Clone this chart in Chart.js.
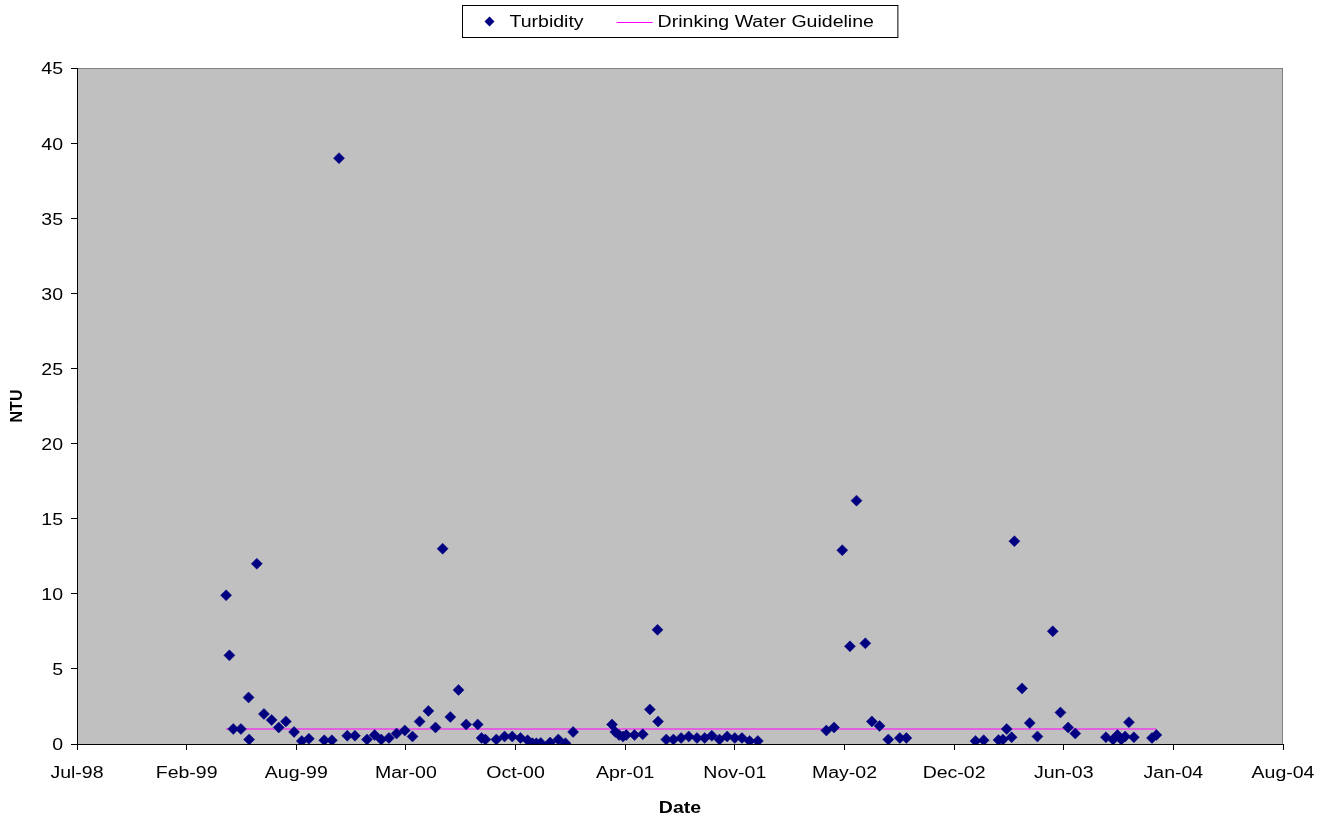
<!DOCTYPE html>
<html>
<head>
<meta charset="utf-8">
<title>Turbidity</title>
<script src="https://cdn.jsdelivr.net/npm/chart.js@4.4.1/dist/chart.umd.min.js"></script>
<style>
  html, body { margin: 0; padding: 0; background: #fff; }
  #wrap { width: 1332px; height: 818px; }
</style>
</head>
<body>
<div id="wrap"><canvas id="turbChart"></canvas></div>
<script>
// sampling dates and measured turbidity (NTU)
const sampleDates = [
  '1999-04-22', '1999-04-28', '1999-05-05', '1999-05-19', '1999-06-02', '1999-06-03',
  '1999-06-17', '1999-06-30', '1999-07-14', '1999-07-27', '1999-08-09', '1999-08-24',
  '1999-09-07', '1999-09-20', '1999-10-18', '1999-11-01', '1999-11-14', '1999-11-29',
  '1999-12-13', '2000-01-04', '2000-01-18', '2000-01-30', '2000-02-13', '2000-02-27',
  '2000-03-13', '2000-03-27', '2000-04-09', '2000-04-25', '2000-05-08', '2000-05-21',
  '2000-06-04', '2000-06-19', '2000-07-03', '2000-07-24', '2000-07-31', '2000-08-07',
  '2000-08-27', '2000-09-11', '2000-09-25', '2000-10-10', '2000-10-23', '2000-11-01',
  '2000-11-08', '2000-11-16', '2000-12-03', '2000-12-18', '2000-12-31', '2001-01-14',
  '2001-03-26', '2001-04-01', '2001-04-08', '2001-04-15', '2001-04-21', '2001-05-06',
  '2001-05-21', '2001-06-03', '2001-06-17', '2001-06-18', '2001-07-03', '2001-07-16',
  '2001-07-30', '2001-08-13', '2001-08-28', '2001-09-11', '2001-09-24', '2001-10-08',
  '2001-10-22', '2001-11-05', '2001-11-18', '2001-12-02', '2001-12-17',
  '2002-04-21', '2002-05-05', '2002-05-20', '2002-06-03', '2002-06-15', '2002-07-01',
  '2002-07-13', '2002-07-27', '2002-08-12', '2002-09-02', '2002-09-14',
  '2003-01-18', '2003-02-02', '2003-03-01', '2003-03-09', '2003-03-16', '2003-03-25',
  '2003-03-30', '2003-04-13', '2003-04-27', '2003-05-11', '2003-06-08', '2003-06-22',
  '2003-07-06', '2003-07-19', '2003-09-13', '2003-09-26', '2003-10-04', '2003-10-11',
  '2003-10-18', '2003-10-25', '2003-11-03', '2003-12-06', '2003-12-14'
];
const turbidity = [
  9.9, 5.9, 1.0, 1.0, 3.1, 0.3,
  12.0, 2.0, 1.6, 1.1, 1.5, 0.8,
  0.2, 0.35, 0.25, 0.25, 39.0, 0.55,
  0.55, 0.3, 0.6, 0.3, 0.4, 0.7,
  0.9, 0.5, 1.5, 2.2, 1.1, 13.0,
  1.8, 3.6, 1.3, 1.3, 0.4, 0.3,
  0.3, 0.5, 0.5, 0.4, 0.25, 0.05,
  0.05, 0.07, 0.1, 0.3, 0.05, 0.8,
  1.3, 0.8, 0.6, 0.5, 0.6, 0.6,
  0.65, 2.3, 7.6, 1.5, 0.3, 0.3,
  0.4, 0.5, 0.4, 0.4, 0.55, 0.3,
  0.5, 0.4, 0.4, 0.2, 0.2,
  0.9, 1.1, 12.9, 6.5, 16.2, 6.7,
  1.5, 1.2, 0.3, 0.4, 0.4,
  0.2, 0.25, 0.27, 0.3, 1.0, 0.45,
  13.5, 3.7, 1.4, 0.5, 7.5, 2.1,
  1.1, 0.7, 0.45, 0.3, 0.6, 0.3,
  0.5, 1.45, 0.45, 0.4, 0.6
];
const guidelineNTU = 1;

// date axis in spreadsheet day numbers, a tick every 200 days
const axisStartDay = 36000;
const axisEndDay = 38200;
const axisStepDays = 200;
const ntuMax = 45;
const ntuStep = 5;

const monthNames = ['Jan', 'Feb', 'Mar', 'Apr', 'May', 'Jun', 'Jul', 'Aug', 'Sep', 'Oct', 'Nov', 'Dec'];
const DAY_MS = 86400000;
const EPOCH = Date.UTC(1899, 11, 30);

function toDayNumber(iso) {
  const p = iso.split('-').map(Number);
  return Math.round((Date.UTC(p[0], p[1] - 1, p[2]) - EPOCH) / DAY_MS);
}

function dayLabel(day) {
  const d = new Date(EPOCH + day * DAY_MS);
  return monthNames[d.getUTCMonth()] + '-' + String(d.getUTCFullYear() % 100).padStart(2, '0');
}

const points = sampleDates.map((s, i) => ({ x: toDayNumber(s), y: turbidity[i] }));
const guideline = [
  { x: points[0].x, y: guidelineNTU },
  { x: points[points.length - 1].x, y: guidelineNTU }
];

const FONT = 'Arial, "Liberation Sans", sans-serif';
const FONT_SIZE = 16;
const TEXT_STRETCH = 1.22;   // horizontal text is drawn a bit wide
const MARKER = '#000080';
const GUIDE = '#FF00FF';

// widen upright text around its anchor; rotated text is left alone
const wideText = {
  id: 'wideText',
  beforeInit(chart) {
    const ctx = chart.ctx;
    const fill = ctx.fillText.bind(ctx);
    ctx.fillText = function (text, x, y, maxWidth) {
      const m = ctx.getTransform();
      if (m.b !== 0 || m.c !== 0) {
        return maxWidth === undefined ? fill(text, x, y) : fill(text, x, y, maxWidth);
      }
      ctx.save();
      ctx.translate(x, y);
      ctx.scale(TEXT_STRETCH, 1);
      fill(text, 0, 0);
      ctx.restore();
    };
  }
};

// grey plot area with a thin frame
const plotBackground = {
  id: 'plotBackground',
  beforeDraw(chart) {
    const { ctx, chartArea: a } = chart;
    ctx.save();
    ctx.fillStyle = '#fff';
    ctx.fillRect(0, 0, chart.width, chart.height);
    ctx.fillStyle = '#C0C0C0';
    ctx.fillRect(a.left, a.top, a.right - a.left, a.bottom - a.top);
    ctx.strokeStyle = '#808080';
    ctx.lineWidth = 1;
    ctx.strokeRect(a.left + 0.5, a.top + 0.5, a.right - a.left - 1, a.bottom - a.top);
    ctx.restore();
  }
};

// boxed legend above the plot
const boxedLegend = {
  id: 'boxedLegend',
  afterDraw(chart) {
    const { ctx, chartArea: a } = chart;
    ctx.save();
    ctx.font = FONT_SIZE + 'px ' + FONT;
    const w1 = ctx.measureText('Turbidity').width * TEXT_STRETCH;
    const w2 = ctx.measureText('Drinking Water Guideline').width * TEXT_STRETCH;
    const boxW = 47 + w1 + 33 + 36 + 5 + w2 + 24;
    const boxH = 32;
    const left = Math.round((a.left + a.right) / 2 - boxW / 2) + 0.5;
    const top = 5.5;
    const cy = top + boxH / 2;

    ctx.fillStyle = '#fff';
    ctx.fillRect(left, top, boxW, boxH);
    ctx.strokeStyle = '#000';
    ctx.lineWidth = 1;
    ctx.strokeRect(left, top, boxW, boxH);

    // diamond marker
    const mx = left + 27, r = 5;
    ctx.fillStyle = MARKER;
    ctx.beginPath();
    ctx.moveTo(mx, cy - r);
    ctx.lineTo(mx + r, cy);
    ctx.lineTo(mx, cy + r);
    ctx.lineTo(mx - r, cy);
    ctx.closePath();
    ctx.fill();

    ctx.fillStyle = '#000';
    ctx.textBaseline = 'middle';
    const t1 = left + 47;
    ctx.fillText('Turbidity', t1, cy + 1);

    const lx = t1 + w1 + 33;
    ctx.strokeStyle = GUIDE;
    ctx.beginPath();
    ctx.moveTo(lx, Math.round(cy) + 0.5);
    ctx.lineTo(lx + 36, Math.round(cy) + 0.5);
    ctx.stroke();

    ctx.fillText('Drinking Water Guideline', lx + 41, cy + 1);
    ctx.restore();
  }
};

Chart.defaults.font.family = FONT;
Chart.defaults.font.size = FONT_SIZE;
Chart.defaults.color = '#000';

new Chart(document.getElementById('turbChart'), {
  type: 'scatter',
  data: {
    datasets: [
      {
        label: 'Turbidity',
        data: points,
        showLine: false,
        pointStyle: 'rectRot',
        pointRadius: 5.5,
        pointBackgroundColor: MARKER,
        pointBorderColor: MARKER,
        pointBorderWidth: 0.5,
        order: 1
      },
      {
        label: 'Drinking Water Guideline',
        type: 'line',
        data: guideline,
        borderColor: GUIDE,
        borderWidth: 1.2,
        pointRadius: 0,
        fill: false,
        order: 2
      }
    ]
  },
  options: {
    responsive: true,
    maintainAspectRatio: false,
    animation: false,
    layout: { padding: { top: 68, right: 49, left: 0, bottom: 0 } },
    plugins: {
      legend: { display: false },
      tooltip: { enabled: false }
    },
    scales: {
      x: {
        type: 'linear',
        min: axisStartDay,
        max: axisEndDay,
        afterFit(scale) { scale.height = 74; },
        afterBuildTicks(scale) {
          const ticks = [];
          for (let d = axisStartDay; d <= axisEndDay; d += axisStepDays) ticks.push({ value: d });
          scale.ticks = ticks;
        },
        ticks: {
          padding: 14,
          maxRotation: 0,
          autoSkip: false,
          callback: (v) => dayLabel(v)
        },
        grid: { drawOnChartArea: false, tickLength: 6, color: '#000' },
        border: { color: '#000', width: 1 },
        title: {
          display: true,
          text: 'Date',
          font: { weight: 'bold', size: FONT_SIZE },
          padding: { top: 0, bottom: 0 }
        }
      },
      y: {
        min: 0,
        max: ntuMax,
        afterFit(scale) { scale.width = 77; },
        ticks: { stepSize: ntuStep, padding: 8, labelOffset: 2 },
        grid: { drawOnChartArea: false, tickLength: 6, color: '#000' },
        border: { color: '#000', width: 1 },
        title: {
          display: true,
          text: 'NTU',
          font: { weight: 'bold', size: FONT_SIZE },
          padding: { top: 8, bottom: 0 }
        }
      }
    }
  },
  plugins: [wideText, plotBackground, boxedLegend]
});
</script>
</body>
</html>
